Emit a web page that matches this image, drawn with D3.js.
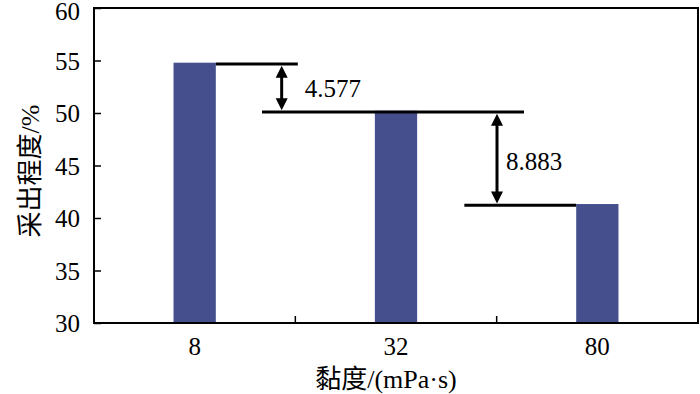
<!DOCTYPE html>
<html><head><meta charset="utf-8">
<script src="https://cdn.jsdelivr.net/npm/d3@7"></script>
<style>body{margin:0;background:#fff}svg{display:block}</style>
</head><body>
<svg id="c" width="700" height="394"></svg>
<script>
const categories = ["8", "32", "80"];
const values = [54.79, 50.213, 41.33];
const yTicks = [30, 35, 40, 45, 50, 55, 60];
const diffLabels = ["4.577", "8.883"];
const xTitle = "黏度/(mPa·s)";
const yTitle = "采出程度/%";

const SF = '"Liberation Serif"';
const CJ = '"Noto Sans CJK SC"';
const svg = d3.select("#c");
const m = {l: 94, r: 2, t: 8, b: 71};
const W = 700, H = 394;
const x = d3.scaleBand().domain(categories).range([m.l, W - m.r]).paddingInner(0).paddingOuter(0);
const y = d3.scaleLinear().domain([30, 60]).range([H - m.b, m.t]);
const barW = x.bandwidth() * 0.21;

// bars
svg.selectAll("rect.bar").data(values).join("rect")
  .attr("x", (d, i) => x(categories[i]) + x.bandwidth() / 2 - barW / 2)
  .attr("y", d => y(d))
  .attr("width", barW)
  .attr("height", d => y(30) - y(d))
  .attr("fill", "#464f8e");

// frame
svg.append("rect").attr("x", m.l).attr("y", m.t).attr("width", W - m.r - m.l).attr("height", H - m.b - m.t)
  .attr("fill", "none").attr("stroke", "#000").attr("stroke-width", 2);

// y axis
const ya = svg.append("g").attr("transform", `translate(${m.l},0)`)
  .call(d3.axisLeft(y).tickValues(yTicks).tickSize(-7).tickPadding(14));
ya.select(".domain").remove();
ya.selectAll("line").attr("stroke", "#000").attr("stroke-width", 1.5);
ya.selectAll("text").style("font-family", SF).style("font-size", "25px").attr("fill", "#000")
  .attr("dy", d => d === 60 ? "0.46em" : "0.34em");

// x axis
const xa = svg.append("g").attr("transform", `translate(0,${H - m.b})`)
  .call(d3.axisBottom(x).tickSize(0).tickPadding(14));
xa.select(".domain").remove();
xa.selectAll("text").style("font-family", SF).style("font-size", "25px").attr("fill", "#000");
// inner boundary ticks
const bounds = categories.slice(1).map(c => x(c));
svg.selectAll("line.bt").data(bounds).join("line")
  .attr("x1", d => d).attr("x2", d => d)
  .attr("y1", H - m.b).attr("y2", H - m.b - 7)
  .attr("stroke", "#000").attr("stroke-width", 1.5);

// titles
svg.append("text").attr("x", (m.l + W - m.r) / 2 - 10).attr("y", 388).attr("text-anchor", "middle")
  .style("font-size", "26px").attr("fill", "#000")
  .selectAll("tspan").data([[xTitle.slice(0, 2), CJ], [xTitle.slice(2), SF]]).join("tspan")
  .style("font-family", d => d[1]).text(d => d[0]);
svg.append("text").attr("transform", `translate(39,171) rotate(-90)`).attr("text-anchor", "middle")
  .style("font-size", "26px").attr("fill", "#000")
  .selectAll("tspan").data([[yTitle.slice(0, 4), CJ], [yTitle.slice(4), SF]]).join("tspan")
  .style("font-family", d => d[1]).text(d => d[0]);

// reference lines
const cx = i => x(categories[i]) + x.bandwidth() / 2;
const refs = [
  {v: values[0], x1: cx(0) + barW / 2, x2: cx(0) + barW / 2 + 82},
  {v: values[1], x1: cx(1) - 134, x2: cx(1) + 128},
  {v: values[2], x1: cx(2) - 133, x2: cx(2) - barW / 2}
];
svg.selectAll("line.ref").data(refs).join("line")
  .attr("x1", d => d.x1).attr("x2", d => d.x2)
  .attr("y1", d => y(d.v) + 1.2).attr("y2", d => y(d.v) + 1.2)
  .attr("stroke", "#000").attr("stroke-width", 3);

// arrows
const arrows = [
  {x: cx(0) + 87, v1: values[0], v2: values[1], label: diffLabels[0], dx: 23, dy: 10},
  {x: cx(1) + 101, v1: values[1], v2: values[2], label: diffLabels[1], dx: 9, dy: 13}
];
const ah = 12, aw = 6;
arrows.forEach(a => {
  const y1 = y(a.v1) + 3, y2 = y(a.v2) - 0.5;
  svg.append("line").attr("x1", a.x).attr("x2", a.x).attr("y1", y1 + ah - 1).attr("y2", y2 - ah + 1)
    .attr("stroke", "#000").attr("stroke-width", 3);
  svg.append("path").attr("d", `M${a.x},${y1} L${a.x - aw},${y1 + ah} L${a.x + aw},${y1 + ah} Z`).attr("fill", "#000");
  svg.append("path").attr("d", `M${a.x},${y2} L${a.x - aw},${y2 - ah} L${a.x + aw},${y2 - ah} Z`).attr("fill", "#000");
  svg.append("text").attr("x", a.x + a.dx).attr("y", (y(a.v1) + y(a.v2)) / 2 + a.dy)
    .style("font-family", SF).style("font-size", "25px").attr("fill", "#000").text(a.label);
});
</script>
</body></html>
